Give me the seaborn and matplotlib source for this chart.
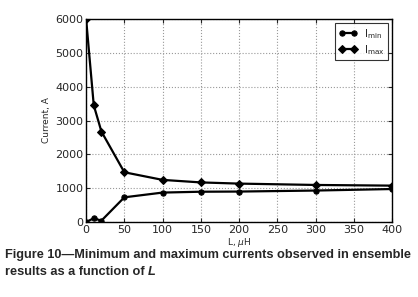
import matplotlib
matplotlib.use("Agg")
import matplotlib.pyplot as plt
import numpy as np
import pandas as pd
import seaborn as sns

# inductance values (uH)
L_values = [0, 10, 20, 50, 100, 150, 200, 300, 400]
# minimum and maximum currents (A)
I_min = [0, 110, 40, 730, 870, 895, 900, 930, 975]
I_max = [6000, 3450, 2675, 1470, 1245, 1170, 1135, 1095, 1075]

df = pd.DataFrame({"L": L_values, "Imin": I_min, "Imax": I_max})

sns.set_style("white")
plt.rcParams['font.family'] = ['DejaVu Sans']

fig = plt.figure(figsize=(4.18, 2.97), dpi=100)
ax = fig.add_axes([0.206, 0.2525, 0.732, 0.6835])

sns.lineplot(data=df, x="L", y="Imin", ax=ax, color="black", linewidth=1.6,
             marker="o", markersize=3.8, markeredgecolor="black", label=r"I$_{\rm min}$")
sns.lineplot(data=df, x="L", y="Imax", ax=ax, color="black", linewidth=1.6,
             marker="D", markersize=4.5, markeredgecolor="black", label=r"I$_{\rm max}$")

ax.set_xlim(0, 400)
ax.set_ylim(0, 6000)
ax.set_xticks(np.arange(0, 401, 50))
ax.set_yticks(np.arange(0, 6001, 1000))
ax.grid(True, linestyle=":", color="#999999", linewidth=0.8)
ax.tick_params(direction="in", length=3, labelsize=8, top=True, right=True,
               bottom=True, left=True, pad=2)
for s in ax.spines.values():
    s.set_color("black")
    s.set_linewidth(1.0)

ax.set_xlabel(r"L, $\mu$H", fontsize=6.5, labelpad=1)
ax.set_ylabel("Current, A", fontsize=6.5, labelpad=3)

leg = ax.legend(loc="upper right", numpoints=2, fontsize=7.5, frameon=True,
                fancybox=False, edgecolor="black", handlelength=1.8,
                borderpad=0.35, labelspacing=0.2, handletextpad=0.6,
                borderaxespad=0.4)
leg.get_frame().set_linewidth(0.8)

cap = dict(fontsize=9.2, fontweight="bold", family="Liberation Sans", va="center")
fig.text(0.012, 0.14, "Figure 10\u2014Minimum and maximum currents observed in ensemble", **cap)
t = fig.text(0.012, 0.085, "results as a function of ", **cap)
fig.canvas.draw()
bb = t.get_window_extent(renderer=fig.canvas.get_renderer())
fig.text(bb.x1 / fig.bbox.width, 0.085, "L", fontstyle="italic", **cap)

fig.savefig("out.png", dpi=100)
